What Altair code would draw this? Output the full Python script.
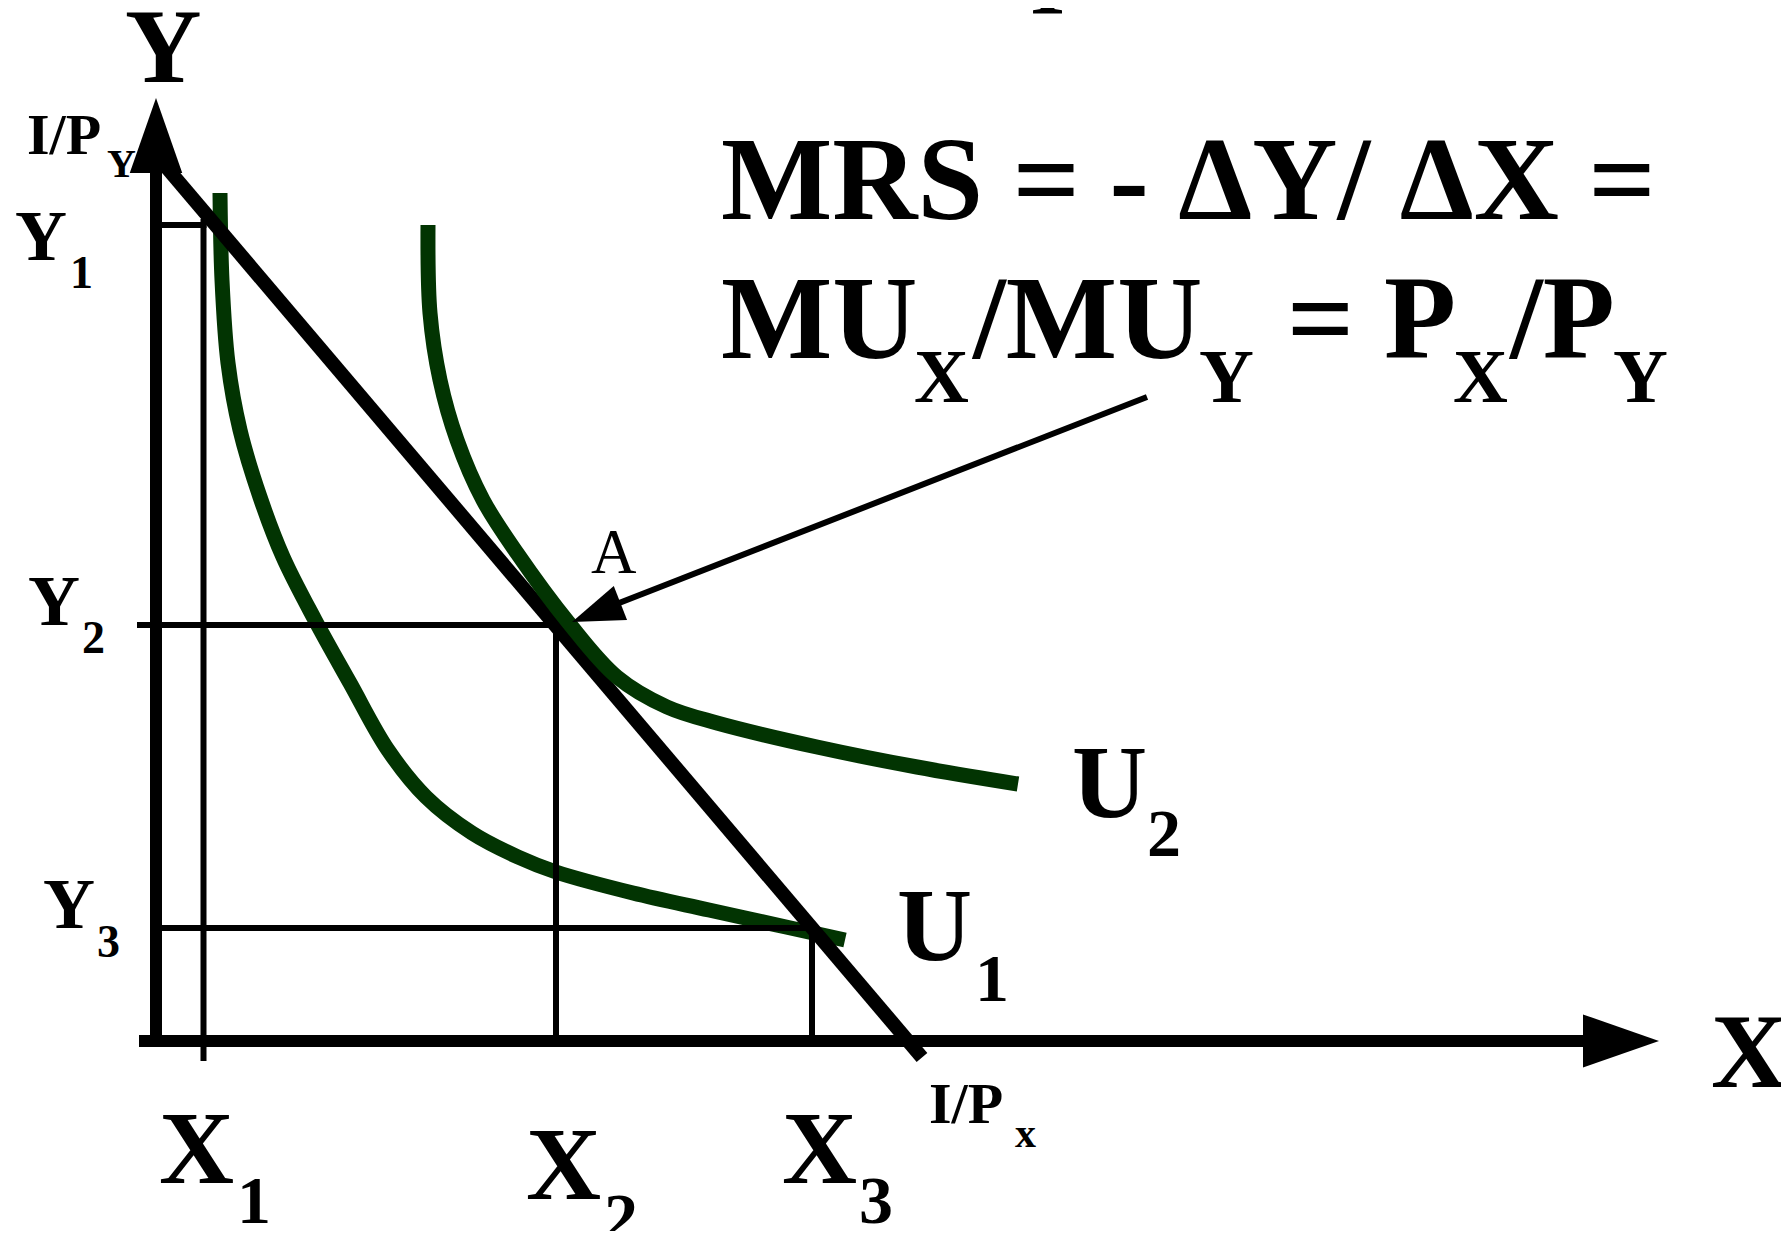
import altair as alt
import pandas as pd

# ---- frame (economic units; origin at the axes' corner) ----
X_DOMAIN = [-14.8, 162.5]
Y_DOMAIN = [-19.0, 103.3]

# ---- budget line intercepts ----
I_PY = 88.6   # I/Py
I_PX = 75.2   # I/Px

# ---- quantities ----
X1, X2, X3 = 4.75, 40.0, 65.6
Y1, Y2, Y3 = 81.6, 41.6, 11.3

# ---- indifference curves ----
u1_x = [6.4, 6.6, 7.2, 8.4, 10.4, 12.7, 15.9, 19.4, 23.2, 27.0, 31.6, 36.2, 40.0, 47.7, 55.3, 63.0, 68.9]
u1_y = [84.8, 76.1, 67.8, 61.1, 54.4, 48.4, 42.1, 35.8, 29.1, 24.4, 20.8, 18.4, 16.9, 14.8, 13.1, 11.4, 10.1]
u2_x = [27.2, 27.4, 28.4, 30.1, 32.7, 36.1, 41.2, 46.1, 51.1, 56.1, 66.1, 76.1, 86.2]
u2_y = [81.6, 72.8, 66.1, 60.1, 54.1, 48.8, 41.9, 36.4, 33.4, 31.8, 29.4, 27.4, 25.7]

# ---- arrow pointing at A ----
arrow_start = (99.1, 64.4)
arrow_tip = (41.6, 41.9)

# ---- labels ----
bold_text = ["Y", "X", "I/P", "Y", "Y", "1", "Y", "2", "Y", "3",
             "X", "1", "X", "2", "X", "3", "I/P", "x",
             "U", "2", "U", "1",
             "MRS = - \u0394Y/ \u0394X =",
             "MU", "X", "/MU", "Y", "=", "P", "X", "/P", "Y", "I"]
bold_x = [-3.1, 155.5, -12.9, -4.9, -14.1, -8.6, -12.8, -7.4, -11.3, -5.9,
          0.3, 8.1, 37.0, 44.8, 62.6, 70.3, 77.3, 85.9,
          91.6, 99.1, 74.1, 81.9,
          56.5,
          56.5, 75.8, 81.7, 104.3, 113.1, 122.8, 129.7, 135.4, 145.7, 87.4]
bold_y = [95.9, -4.6, 88.7, 86.4, 78.1, 75.3, 41.6, 38.8, 11.3, 8.4,
          -14.2, -18.2, -15.8, -19.9, -14.2, -18.2, -8.2, -10.6,
          22.4, 18.5, 8.1, 4.0,
          82.2,
          68.3, 63.9, 68.3, 63.9, 68.3, 68.3, 63.9, 68.3, 63.9, 102.7]
bold_size = [106, 106, 58, 40, 72, 46, 72, 46, 72, 46,
             104, 68, 104, 68, 104, 68, 58, 42,
             104, 68, 104, 68,
             118,
             118, 76, 118, 76, 118, 118, 76, 118, 76, 90]

reg_text = ["A"]
reg_x = [43.5]
reg_y = [46.8]
reg_size = [63]

GREEN = "#023402"
FONT = "Liberation Serif"

xs = alt.Scale(domain=X_DOMAIN, nice=False, zero=False)
ys = alt.Scale(domain=Y_DOMAIN, nice=False, zero=False)

slope = I_PY / I_PX
bx0, bx1 = 0.4, 76.6

thick = pd.DataFrame({
    "x": [0.0, -1.7, bx0, arrow_start[0]],
    "y": [-0.6, 0.0, I_PY - slope * bx0, arrow_start[1]],
    "x2": [0.0, 142.7, bx1, 44.0],
    "y2": [86.8, 0.0, I_PY - slope * bx1, 42.9],
    "w": [12, 12, 14, 6],
})
thin = pd.DataFrame({
    "x": [0.0, X1, -1.6, X2, 0.0, X3],
    "y": [Y1, Y1 + 0.3, Y2, Y2, Y3, Y3],
    "x2": [X1, X1, X2, X2, X3, X3],
    "y2": [Y1, -1.7, Y2, 0.0, Y3, 0.0],
    "w": [6, 6, 6, 6, 6, 6],
})

u1 = pd.DataFrame({"x": u1_x, "y": u1_y, "o": list(range(len(u1_x)))})
u2 = pd.DataFrame({"x": u2_x, "y": u2_y, "o": list(range(len(u2_x)))})

heads = pd.DataFrame({
    "x": [0.0, 150.3, arrow_tip[0]],
    "y": [94.3, 0.0, arrow_tip[1]],
    "s": [75 * 75, 76 * 76, 52 * 52],
    "a": [270, 0, 158.6],
})

bold_df = pd.DataFrame({"t": bold_text, "x": bold_x, "y": bold_y, "fs": bold_size})
reg_df = pd.DataFrame({"t": reg_text, "x": reg_x, "y": reg_y, "fs": reg_size})


def rule_layer(df, cap):
    return alt.Chart(df).mark_rule(color="black", strokeCap=cap).encode(
        x=alt.X("x:Q", scale=xs, axis=None),
        y=alt.Y("y:Q", scale=ys, axis=None),
        x2="x2:Q",
        y2="y2:Q",
        strokeWidth=alt.StrokeWidth("w:Q", scale=None),
    )


def curve_layer(df):
    return alt.Chart(df).mark_line(
        color=GREEN, strokeWidth=15, interpolate="catmull-rom", strokeCap="butt"
    ).encode(
        x=alt.X("x:Q", scale=xs, axis=None),
        y=alt.Y("y:Q", scale=ys, axis=None),
        order="o:Q",
    )


def text_layer(df, weight):
    return alt.Chart(df).mark_text(
        align="left", baseline="alphabetic", font=FONT, fontWeight=weight, color="black"
    ).encode(
        x=alt.X("x:Q", scale=xs, axis=None),
        y=alt.Y("y:Q", scale=ys, axis=None),
        text="t:N",
        size=alt.Size("fs:Q", scale=None),
    )


head_layer = alt.Chart(heads).mark_point(
    shape="M0,0L-2,-0.7L-2,0.7Z", filled=True, color="black", opacity=1, strokeWidth=0
).encode(
    x=alt.X("x:Q", scale=xs, axis=None),
    y=alt.Y("y:Q", scale=ys, axis=None),
    size=alt.Size("s:Q", scale=None),
    angle=alt.Angle("a:Q", scale=None),
)

chart = alt.layer(
    curve_layer(u1),
    rule_layer(thin, "square"),
    rule_layer(thick, "butt"),
    curve_layer(u2),
    head_layer,
    text_layer(bold_df, "bold"),
    text_layer(reg_df, "normal"),
).properties(
    width=1773,
    height=1223,
    autosize=alt.AutoSizeParams(type="none"),
    padding=0,
).configure_view(stroke=None)

chart.save("out.html", embed_options={"renderer": "svg", "actions": False})
